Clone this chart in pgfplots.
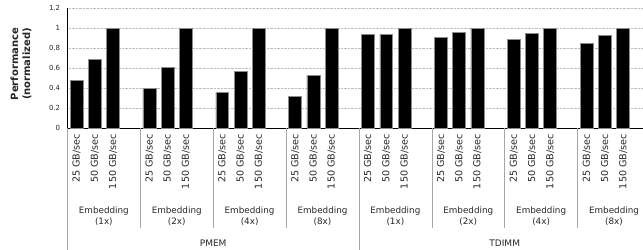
\documentclass[border=0pt]{standalone}
\usepackage{pgfplots}
\pgfplotsset{compat=1.18}
\usepackage{fontspec}
\setmainfont{DejaVu Sans}
\definecolor{txt}{HTML}{262626}
\definecolor{sep}{HTML}{A6A6A6}
\definecolor{gridc}{HTML}{BFBFBF}
\begin{document}
\begin{tikzpicture}
\useasboundingbox (-67.4bp,-122bp) rectangle (575.6bp,128bp);
\begin{axis}[
  at={(0,0)}, anchor=south west,
  scale only axis, width=575.6bp, height=120bp,
  xmin=-0.5, xmax=31.09, ymin=0, ymax=1.2,
  clip=false,
  axis x line=bottom, axis y line=left,
  axis line style={black,-},
  major tick length=0pt,
  ytick={0,0.2,0.4,0.6,0.8,1,1.2},
  ymajorgrids=true, xmajorgrids=false,
  major grid style={draw=gridc, densely dotted, line width=0.6bp},
  /pgf/number format/assume math mode=true,
  yticklabel style={font=\fontsize{7bp}{8bp}\selectfont, text=txt, inner sep=0pt, xshift=-7bp},
  xtick={0,1,2,4,5,6,8,9,10,12,13,14,16,17,18,20,21,22,24,25,26,28,29,30},
  xticklabels={25 GB/sec,50 GB/sec,150 GB/sec,25 GB/sec,50 GB/sec,150 GB/sec,25 GB/sec,50 GB/sec,150 GB/sec,25 GB/sec,50 GB/sec,150 GB/sec,25 GB/sec,50 GB/sec,150 GB/sec,25 GB/sec,50 GB/sec,150 GB/sec,25 GB/sec,50 GB/sec,150 GB/sec,25 GB/sec,50 GB/sec,150 GB/sec},
  xticklabel style={font=\fontsize{9.6bp}{10bp}\selectfont, text=txt, inner ysep=0pt, inner xsep=6bp, rotate=90, anchor=east},
  ylabel={Performance\\(normalized)},
  every axis y label/.style={at={(axis description cs:0,0.533)}, xshift=-46.5bp, rotate=90, anchor=center, align=center, font=\bfseries\fontsize{10bp}{12bp}\selectfont, text=txt},
]
\addplot[ybar, fill=black, draw=black!45, line width=0.6bp, bar width=0.71] coordinates {
  (0,0.48) (1,0.69) (2,1.0)
  (4,0.40) (5,0.61) (6,1.0)
  (8,0.36) (9,0.57) (10,1.0)
  (12,0.32) (13,0.53) (14,1.0)
  (16,0.94) (17,0.94) (18,1.0)
  (20,0.91) (21,0.96) (22,1.0)
  (24,0.89) (25,0.95) (26,1.0)
  (28,0.85) (29,0.93) (30,1.0)
};
% separators
\pgfplotsinvokeforeach{3.5,7.5,11.5,19.5,23.5,27.5}{
  \draw[sep, line width=0.6bp] (axis cs:#1,0) -- ++(0pt,-100bp);
}
\draw[sep, line width=0.6bp] (axis cs:15.5,0) -- ++(0pt,-122bp);
\draw[sep, line width=0.6bp] (axis cs:-0.5,0) -- ++(0pt,-122bp);
% group labels
\pgfplotsinvokeforeach{1.5,17.5}{
  \node[align=center, font=\fontsize{8.8bp}{11bp}\selectfont, text=txt, inner sep=0pt] at (axis cs:#1,0) [yshift=-88.5bp] {Embedding\\(1x)};
}
\pgfplotsinvokeforeach{5.5,21.5}{
  \node[align=center, font=\fontsize{8.8bp}{11bp}\selectfont, text=txt, inner sep=0pt] at (axis cs:#1,0) [yshift=-88.5bp] {Embedding\\(2x)};
}
\pgfplotsinvokeforeach{9.5,25.5}{
  \node[align=center, font=\fontsize{8.8bp}{11bp}\selectfont, text=txt, inner sep=0pt] at (axis cs:#1,0) [yshift=-88.5bp] {Embedding\\(4x)};
}
\pgfplotsinvokeforeach{13.5,29.5}{
  \node[align=center, font=\fontsize{8.8bp}{11bp}\selectfont, text=txt, inner sep=0pt] at (axis cs:#1,0) [yshift=-88.5bp] {Embedding\\(8x)};
}
\node[font=\fontsize{9bp}{10bp}\selectfont, text=txt, inner sep=0pt] at (axis cs:7.5,0) [yshift=-115bp] {PMEM};
\node[font=\fontsize{9bp}{10bp}\selectfont, text=txt, inner sep=0pt] at (axis cs:23.5,0) [yshift=-115bp] {TDIMM};
\end{axis}
\end{tikzpicture}
\end{document}
